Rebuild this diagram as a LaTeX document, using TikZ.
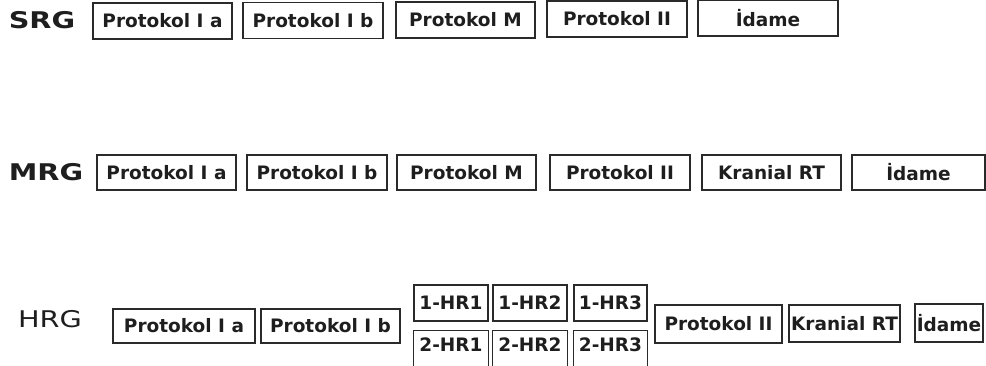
\documentclass[tikz,border=0pt]{standalone}
\usepackage{fontspec}
\setmainfont{DejaVu Sans}
\newfontfamily\labfont[FakeStretch=1.25]{DejaVu Sans}
\definecolor{linec}{HTML}{2A2A2A}
\definecolor{txtc}{HTML}{1E1E1E}
\begin{document}
\begin{tikzpicture}[x=1pt,y=-1pt,
  bx/.style={draw=linec, line width=1.3pt, inner sep=0pt, text=txtc,
    font=\fontsize{18.5}{20}\selectfont\bfseries},
  openbx/.style={inner sep=0pt, text=txtc, font=\fontsize{18.5}{20}\selectfont\bfseries},
  side/.style={draw=linec, line width=1.3pt},
  lab/.style={inner sep=0pt, text=txtc, font=\labfont\fontsize{23}{25}\selectfont}]
\useasboundingbox (0,0) rectangle (986,366);

% Row 1: SRG
\node[lab, font=\labfont\fontsize{23}{25}\selectfont\bfseries] (srg) at (42,20) {SRG};
\node[bx, minimum width=139pt, minimum height=36pt] (s1) at (162.5,21) {Protokol I a};
\node[bx, minimum width=140pt, minimum height=36pt] (s2) at (313,20.5) {Protokol I b};
\node[bx, minimum width=139pt, minimum height=36pt] (s3) at (465.5,20) {Protokol M};
\node[bx, minimum width=140pt, minimum height=36pt] (s4) at (617,19) {Protokol II};
\node[bx, minimum width=140pt, minimum height=36pt] (s5) at (768,18) {İdame};

% Row 2: MRG
\node[lab, font=\labfont\fontsize{23}{25}\selectfont\bfseries] (mrg) at (46,172) {MRG};
\node[bx, minimum width=139pt, minimum height=35pt] (m1) at (166.5,172.5) {Protokol I a};
\node[bx, minimum width=140pt, minimum height=35pt] (m2) at (317,172.5) {Protokol I b};
\node[bx, minimum width=139pt, minimum height=35pt] (m3) at (466.5,172.5) {Protokol M};
\node[bx, minimum width=140pt, minimum height=35pt] (m4) at (620,172.5) {Protokol II};
\node[bx, minimum width=139pt, minimum height=35pt] (m5) at (771.5,172.5) {Kranial RT};
\node[bx, minimum width=133pt, minimum height=35pt] (m6) at (918.5,172.5) {İdame};

% Row 3: HRG
\node[lab] (hrg) at (50,319) {HRG};
\node[bx, minimum width=142pt, minimum height=34pt] (h1) at (184,326) {Protokol I a};
\node[bx, minimum width=139pt, minimum height=34pt] (h2) at (330.5,326) {Protokol I b};
\node[bx, minimum width=74pt, minimum height=36pt] (a1) at (451,303) {1-HR1};
\node[bx, minimum width=74pt, minimum height=36pt] (a2) at (530,303) {1-HR2};
\node[bx, minimum width=73pt, minimum height=36pt] (a3) at (610.5,303) {1-HR3};
\node[openbx, minimum width=74pt, minimum height=28pt] (b1) at (451,345) {2-HR1};
\node[openbx, minimum width=74pt, minimum height=28pt] (b2) at (530,345) {2-HR2};
\node[openbx, minimum width=73pt, minimum height=28pt] (b3) at (610.5,345) {2-HR3};
\draw[side] (b1.north west) ++(0,36) -- (b1.north west) -- (b1.north east) -- ++(0,36);
\draw[side] (b2.north west) ++(0,36) -- (b2.north west) -- (b2.north east) -- ++(0,36);
\draw[side] (b3.north west) ++(0,36) -- (b3.north west) -- (b3.north east) -- ++(0,36);
\node[bx, minimum width=127pt, minimum height=38pt] (h3) at (718.5,324) {Protokol II};
\node[bx, minimum width=111pt, minimum height=37pt] (h4) at (844.5,323.5) {Kranial RT};
\node[bx, minimum width=68pt, minimum height=38pt] (h5) at (949,323) {İdame};
\end{tikzpicture}
\end{document}
